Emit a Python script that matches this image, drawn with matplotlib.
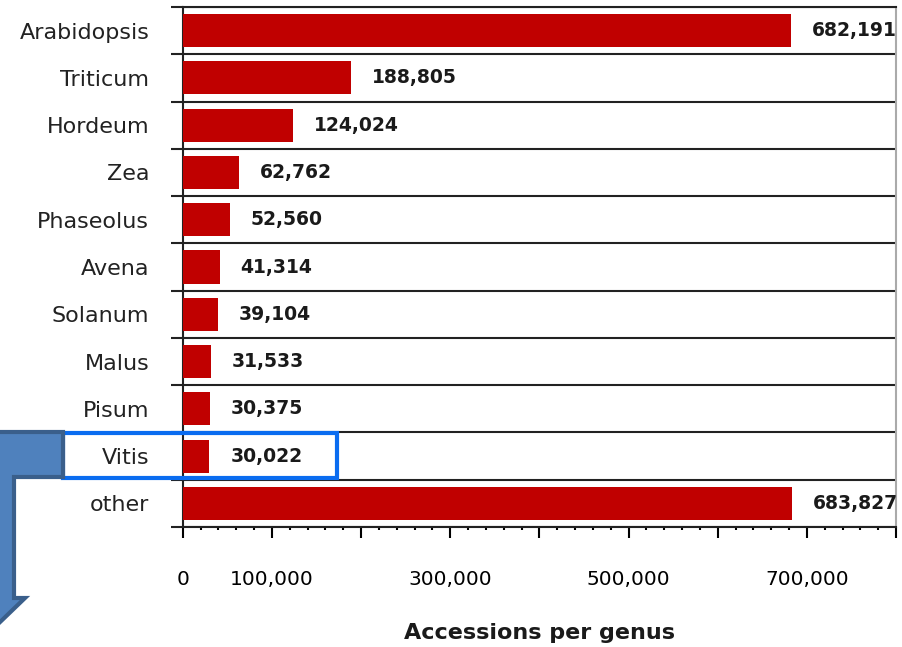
import matplotlib
matplotlib.use("Agg")
import matplotlib.pyplot as plt
from matplotlib.ticker import MultipleLocator, FixedLocator, FuncFormatter
from matplotlib.patches import Polygon, Rectangle

# data
genera = ['Arabidopsis', 'Triticum', 'Hordeum', 'Zea', 'Phaseolus', 'Avena',
          'Solanum', 'Malus', 'Pisum', 'Vitis', 'other']
accessions = [682191, 188805, 124024, 62762, 52560, 41314,
              39104, 31533, 30375, 30022, 683827]
shown_ticks = [0, 100000, 300000, 500000, 700000]

W, H = 902, 647
fig = plt.figure(figsize=(W / 100, H / 100), dpi=100)
ax = fig.add_axes([182.7 / W, 1 - 527 / H, (896 - 182.7) / W, (527 - 7) / H])

pos = list(range(len(genera)))
ax.barh(pos, accessions, height=0.7, color='#C00000', zorder=3)

for p, v in zip(pos, accessions):
    ax.annotate(f'{v:,}', (v, p), xytext=(15, 0), textcoords='offset points',
                va='center', ha='left', fontsize=13.5, fontweight='bold',
                color='#1a1a1a', annotation_clip=False)

ax.set_xlim(0, 800000)
ax.set_ylim(len(genera) - 0.5, -0.5)

# x axis
ax.xaxis.set_major_locator(MultipleLocator(100000))
ax.xaxis.set_minor_locator(MultipleLocator(20000))
ax.xaxis.set_major_formatter(FuncFormatter(
    lambda x, _: f'{int(round(x)):,}' if int(round(x)) in shown_ticks else ''))
ax.tick_params(axis='x', which='major', direction='out', length=8, width=1.5,
               pad=23, labelsize=14.5, color='black')
ax.tick_params(axis='x', which='minor', direction='out', length=2.5, width=1.5,
               color='black')

# y axis: labels at centres, ticks + gridlines at boundaries
ax.set_yticks(pos)
ax.set_yticklabels(genera)
ax.yaxis.set_minor_locator(FixedLocator([i - 0.5 for i in range(len(genera) + 1)]))
ax.tick_params(axis='y', which='major', length=0, pad=24, labelsize=16,
               labelcolor='#222222')
ax.tick_params(axis='y', which='minor', direction='out', length=9, width=1.5,
               color='#222222')
ax.grid(True, axis='y', which='minor', color='#222222', linewidth=1.5, zorder=1)
ax.grid(False, axis='y', which='major')

for s in ['left', 'bottom', 'top']:
    ax.spines[s].set_color('#222222')
    ax.spines[s].set_linewidth(1.5)
ax.spines['right'].set_color('#aaaaaa')
ax.spines['right'].set_linewidth(1.5)

fig.text(540 / W, 1 - 633 / H, 'Accessions per genus', ha='center', va='center',
         fontsize=16, fontweight='bold', color='#1a1a1a')

# highlight box around Vitis and bent arrow
def fxy(x, y):
    return (x / W, 1 - y / H)

box = Rectangle(fxy(63, 478), (337 - 63) / W, (478 - 433) / H, fill=False,
                edgecolor='#0a6cf0', linewidth=3, transform=fig.transFigure,
                zorder=10)
fig.patches.append(box)

arrow_pts = [(-10, 432), (63, 432), (63, 477), (14, 477), (14, 598),
             (25, 598), (-2, 624), (-10, 624)]
arrow = Polygon([fxy(x, y) for x, y in arrow_pts], closed=True,
                facecolor='#4F81BD', edgecolor='#3A5F8B', linewidth=3,
                transform=fig.transFigure, zorder=11)
fig.patches.append(arrow)

fig.savefig('out.png', dpi=100)
